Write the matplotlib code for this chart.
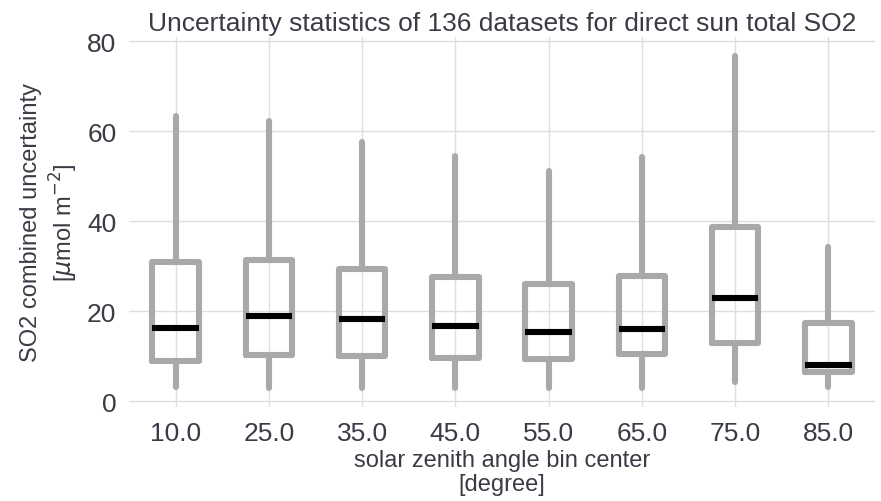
import matplotlib
matplotlib.use("Agg")
import matplotlib.pyplot as plt
import seaborn as sns

# box statistics per solar zenith angle bin
bins = ["10.0", "25.0", "35.0", "45.0", "55.0", "65.0", "75.0", "85.0"]
whislo = [3.2, 3.0, 3.0, 3.0, 3.0, 3.0, 4.3, 3.2]
q1 = [9.0, 10.2, 10.1, 9.5, 9.3, 10.4, 13.0, 6.4]
med = [16.2, 19.0, 18.3, 16.7, 15.3, 16.1, 22.9, 8.1]
q3 = [30.8, 31.3, 29.3, 27.6, 26.0, 27.9, 38.7, 17.3]
whishi = [63.4, 62.3, 57.6, 54.5, 51.2, 54.2, 76.7, 34.2]

sns.set_theme(style="whitegrid")
plt.rcParams['font.family'] = ['Liberation Sans', 'DejaVu Sans']

fig = plt.figure(figsize=(8.81, 5.02), dpi=100)
ax = fig.add_axes([0.1464, 0.1873, 0.8468, 0.737])

stats = []
for i in range(len(bins)):
    stats.append(dict(label=bins[i], whislo=whislo[i], q1=q1[i], med=med[i],
                      q3=q3[i], whishi=whishi[i], fliers=[]))

grey = "#a9a9a9"
ax.bxp(stats, positions=range(len(bins)), widths=0.5, showfliers=False,
       showcaps=False,
       boxprops=dict(color=grey, linewidth=4.4, solid_joinstyle="round"),
       whiskerprops=dict(color=grey, linewidth=4.4, solid_capstyle="round"),
       medianprops=dict(color="black", linewidth=4.4, solid_capstyle="butt"))

ax.set_xlim(-0.5, len(bins) - 0.5)
ax.set_ylim(-1.3, 80.9)
ax.set_yticks([0, 20, 40, 60, 80])
ax.set_xticks(range(len(bins)))
ax.set_xticklabels(bins)
for s in ax.spines.values():
    s.set_visible(False)
ax.grid(True, color="#dedede", linewidth=1)
ax.tick_params(axis="both", labelsize=19, colors="#3b3b46", length=0)
ax.tick_params(axis="x", pad=10)
ax.tick_params(axis="y", pad=9)

txt = "#3b3b46"
ax.set_title("Uncertainty statistics of 136 datasets for direct sun total SO2",
             fontsize=19, color=txt, pad=5)
ax.set_xlabel("solar zenith angle bin center\n[degree]", fontsize=17,
              color=txt, labelpad=3, linespacing=1.1)
ax.set_ylabel("SO2 combined uncertainty\n[$\\mu$mol m$^{-2}$]", fontsize=17,
              color=txt, labelpad=5, linespacing=1.25)

fig.savefig("out.png", dpi=100)
